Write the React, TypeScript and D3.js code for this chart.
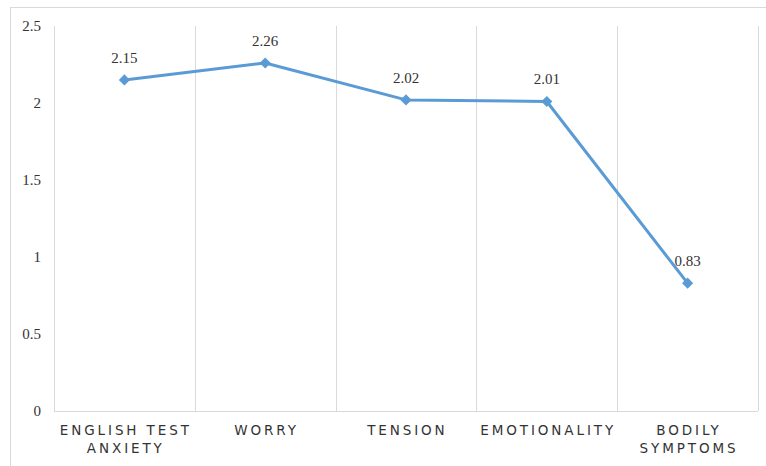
import React, { useRef, useEffect } from "react";
import * as d3 from "d3";

const categories: string[][] = [
  ["ENGLISH TEST", "ANXIETY"],
  ["WORRY"],
  ["TENSION"],
  ["EMOTIONALITY"],
  ["BODILY", "SYMPTOMS"],
];
const values: number[] = [2.15, 2.26, 2.02, 2.01, 0.83];
const labels: string[] = ["2.15", "2.26", "2.02", "2.01", "0.83"];
const yTicks: number[] = [0, 0.5, 1, 1.5, 2, 2.5];

const W = 766;
const H = 466;
const left = 54;
const right = 758;
const top = 26;
const bottom = 411;
const grid = "#d9d9d9";
const blue = "#5B9BD5";
const serif = "Liberation Serif, DejaVu Serif, serif";

export default function App() {
  const ref = useRef<SVGSVGElement>(null);
  useEffect(() => {
    const svg = d3.select(ref.current);
    svg.selectAll("*").remove();
    const idx = d3.range(values.length);
    const x = d3.scaleBand<number>().domain(idx).range([left, right]).padding(0);
    const y = d3.scaleLinear().domain([0, 2.5]).range([bottom, top]);

    svg.append("rect").attr("width", W).attr("height", H).attr("fill", "#fff");
    svg.append("rect")
      .attr("x", 10.5).attr("y", 7.5).attr("width", W + 20).attr("height", H + 20)
      .attr("fill", "none").attr("stroke", grid);

    const bounds = idx.map((i) => x(i)!).concat([right]);
    svg.append("g").selectAll("line").data(bounds).join("line")
      .attr("x1", (d) => Math.round(d) + 0.5).attr("x2", (d) => Math.round(d) + 0.5)
      .attr("y1", top).attr("y2", bottom)
      .attr("stroke", grid).attr("stroke-width", 1);

    svg.append("line")
      .attr("x1", left).attr("x2", right)
      .attr("y1", bottom + 0.5).attr("y2", bottom + 0.5)
      .attr("stroke", grid);

    const tg = svg.append("g").attr("font-family", serif).attr("font-size", 15).attr("fill", "#333");
    tg.selectAll("text").data(yTicks).join("text")
      .attr("x", 41).attr("y", (d) => y(d))
      .attr("dy", "0.33em")
      .attr("text-anchor", "end")
      .text((d) => String(d));

    const cx = (i: number) => x(i)! + x.bandwidth() / 2;
    const cg = svg.append("g");
    categories.forEach((lines, i) => {
      lines.forEach((ln, j) => {
        cg.append("text")
          .attr("x", cx(i) + 1.4).attr("y", 435 + j * 17.5)
          .attr("text-anchor", "middle")
          .attr("font-family", "DejaVu Sans, Verdana, sans-serif")
          .attr("font-size", 13.5).attr("letter-spacing", 2.9)
          .attr("fill", "#333")
          .text(ln);
      });
    });

    const line = d3.line<number>().x((_, i) => cx(i)).y((d) => y(d));
    svg.append("path").datum(values)
      .attr("d", line).attr("fill", "none")
      .attr("stroke", blue).attr("stroke-width", 3).attr("stroke-linejoin", "round");

    const sym = d3.symbol().type(d3.symbolSquare).size(62);
    svg.append("g").selectAll("path").data(values).join("path")
      .attr("d", sym as any)
      .attr("transform", (d, i) => `translate(${cx(i)},${y(d)}) rotate(45)`)
      .attr("fill", blue);

    const lg = svg.append("g").attr("font-family", serif).attr("font-size", 15).attr("fill", "#333");
    lg.selectAll("text").data(values).join("text")
      .attr("x", (_, i) => cx(i)).attr("y", (d) => y(d) - 17)
      .attr("text-anchor", "middle")
      .text((_, i) => labels[i]);
  }, []);
  return (
    <svg ref={ref} width={W} height={H}
      style={{ position: "absolute", left: 0, top: 0, display: "block" }} />
  );
}
